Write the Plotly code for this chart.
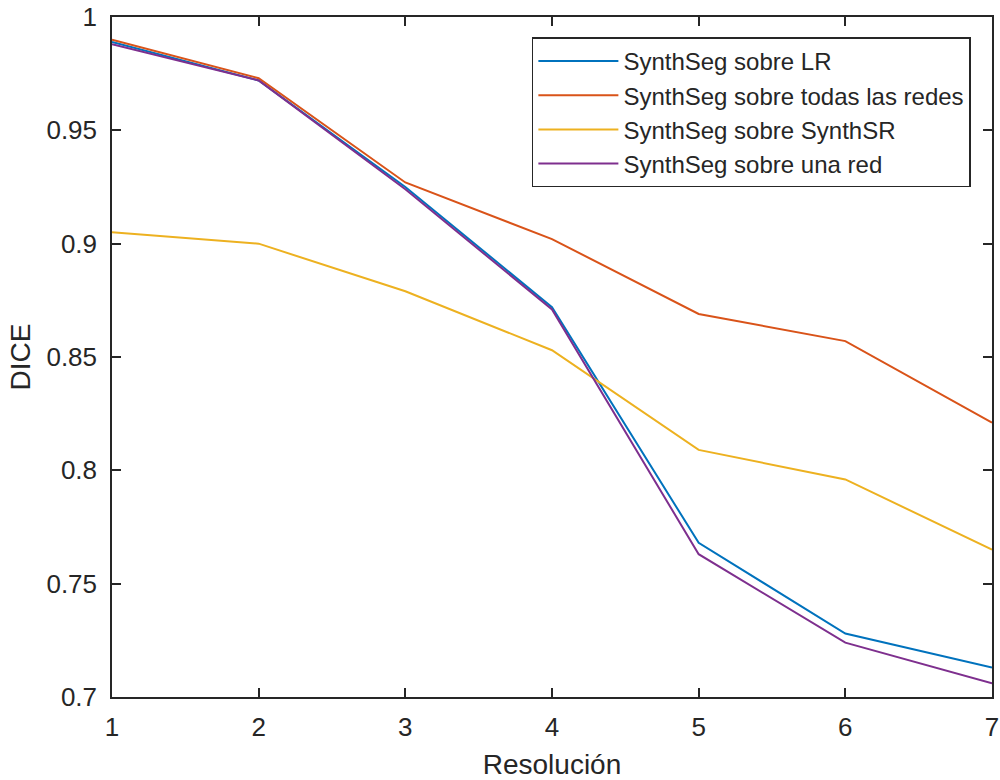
import plotly.graph_objects as go

resolucion = [1, 2, 3, 4, 5, 6, 7]
lr = [0.989, 0.972, 0.925, 0.872, 0.768, 0.728, 0.713]
todas = [0.990, 0.973, 0.927, 0.902, 0.869, 0.857, 0.821]
synthsr = [0.905, 0.900, 0.879, 0.853, 0.809, 0.796, 0.765]
una_red = [0.988, 0.972, 0.924, 0.871, 0.763, 0.724, 0.706]

names = ["SynthSeg sobre LR", "SynthSeg sobre todas las redes",
         "SynthSeg sobre SynthSR", "SynthSeg sobre una red"]
colors = ["#0072BD", "#D95319", "#EDB120", "#7E2F8E"]
series = [lr, todas, synthsr, una_red]

FONT = "Liberation Sans"
INK = "#262626"

fig = go.Figure()
for n, c, s in zip(names, colors, series):
    fig.add_trace(go.Scatter(x=resolucion, y=s, mode="lines", name=n,
                             line=dict(color=c, width=2)))

axis_common = dict(showline=True, linecolor=INK, linewidth=1.5, mirror="ticks",
                   ticks="inside", ticklen=9, tickwidth=1.5, tickcolor=INK, showgrid=False,
                   zeroline=False, automargin=False, ticklabeloverflow="allow",
                   tickfont=dict(family=FONT, size=26, color=INK))

fig.update_xaxes(range=[1, 7], tickvals=resolucion, ticktext=[str(v) for v in resolucion],
                 ticklabelstandoff=6,
                 title=dict(text="Resolución", font=dict(family=FONT, size=28, color=INK), standoff=14),
                 **axis_common)
fig.update_yaxes(range=[0.7, 1.0], tickvals=[0.7, 0.75, 0.8, 0.85, 0.9, 0.95, 1.0],
                 ticktext=["0.7", "0.75", "0.8", "0.85", "0.9", "0.95", "1"],
                 ticklabelstandoff=8,
                 title=dict(text="DICE", font=dict(family=FONT, size=28, color=INK), standoff=8),
                 **axis_common)

fig.update_layout(
    width=1000, height=780,
    margin=dict(l=112, r=8, t=17, b=83),
    plot_bgcolor="white", paper_bgcolor="white",
    legend=dict(x=0.976, y=0.97, xanchor="right", yanchor="top",
                bordercolor=INK, borderwidth=1.5, bgcolor="white",
                font=dict(family=FONT, size=24, color=INK),
                itemwidth=80),
    showlegend=True,
)

fig.write_html("out.html", config={"displayModeBar": False},
               post_script="document.body.style.margin='0';")
